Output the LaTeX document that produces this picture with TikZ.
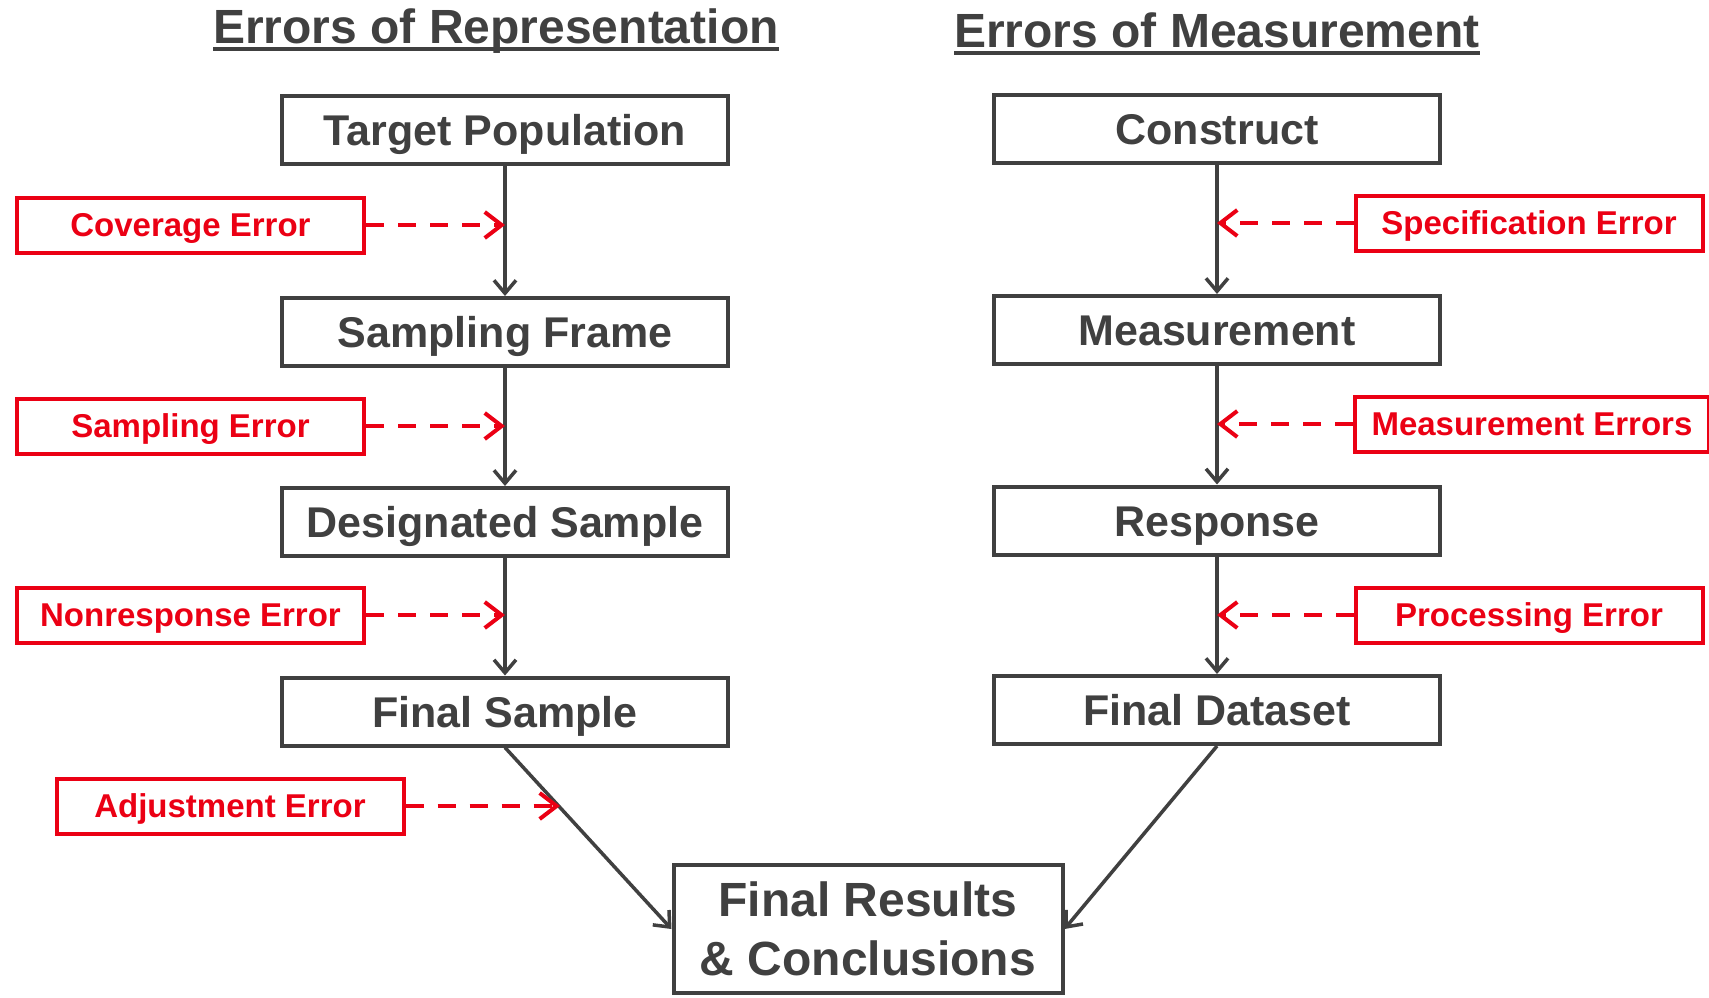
\documentclass[tikz,border=0pt]{standalone}
\usepackage{fontspec}
\setmainfont{Liberation Sans}
\usetikzlibrary{arrows.meta}
\definecolor{darkgr}{RGB}{64,64,64}
\definecolor{errred}{RGB}{235,0,20}
\begin{document}
\begin{tikzpicture}[x=1pt,y=1pt,
  stage/.style={draw=darkgr,line width=4pt,text=darkgr,inner sep=0pt,
    font=\fontsize{43}{50}\selectfont\bfseries,minimum width=446pt,minimum height=68pt,
    text height=31pt,text depth=0pt},
  errbox/.style={draw=errred,line width=4pt,text=errred,inner sep=0pt,
    font=\fontsize{33}{38}\selectfont\bfseries,minimum width=347pt,minimum height=55pt,
    text height=23.6pt,text depth=0pt},
  heading/.style={text=darkgr,inner sep=0pt,anchor=base,font=\fontsize{48}{56}\selectfont\bfseries},
  uline/.style={draw=darkgr,line width=3.5pt},
  flow/.style={draw=darkgr,line width=3.5pt,-{Straight Barb[length=13pt,width=22pt]}},
  errflow/.style={draw=errred,line width=4pt,dash pattern=on 18pt off 14pt,
    -{Straight Barb[length=17pt,width=26pt]}}]
\useasboundingbox (0,0) rectangle (1709,-997);
% headings
\node[heading] (hrep) at (496,-43) {Errors of Representation};
\node[heading] (hmeas) at (1217,-47) {Errors of Measurement};
\draw[uline] ([yshift=-6pt]hrep.base west) -- ([yshift=-6pt]hrep.base east);
\draw[uline] ([yshift=-6pt]hmeas.base west) -- ([yshift=-6pt]hmeas.base east);
% representation side
\node[stage] (tp) at (505,-129.5) {Target Population};
\node[stage] (sf) at (505,-332) {Sampling Frame};
\node[stage] (ds) at (505,-522) {Designated Sample};
\node[stage] (fs) at (505,-711.5) {Final Sample};
% measurement side
\node[stage] (co) at (1217,-129) {Construct};
\node[stage] (me) at (1217,-330) {Measurement};
\node[stage] (re) at (1217,-520.5) {Response};
\node[stage] (fd) at (1217,-710) {Final Dataset};
% result
\node[stage,align=center,minimum width=389pt,minimum height=128pt,text height=,text depth=,
  font=\fontsize{48}{59}\selectfont\bfseries] (fr) at (868,-929) {Final Results\\\& Conclusions};
% error sources
\node[errbox] (cov) at (190.5,-225) {Coverage Error};
\node[errbox] (samp) at (190.5,-426) {Sampling Error};
\node[errbox] (nonr) at (190.5,-615) {Nonresponse Error};
\node[errbox] (adj) at (230,-806) {Adjustment Error};
\node[errbox] (spec) at (1529,-223) {Specification Error};
\node[errbox,minimum width=354pt] (merr) at (1532,-424) {Measurement Errors};
\node[errbox] (proc) at (1529,-615) {Processing Error};
% connectors
\draw[flow] (tp.south) -- (sf.north);
\draw[flow] (sf.south) -- (ds.north);
\draw[flow] (ds.south) -- (fs.north);
\draw[flow] (co.south) -- (me.north);
\draw[flow] (me.south) -- (re.north);
\draw[flow] (re.south) -- (fd.north);
\draw[flow] (fs.south) -- coordinate[pos=0.33] (adjpt) (fr.west);
\draw[flow] (fd.south) -- (fr.east);
% error arrows
\draw[errflow] (cov.east) -- (cov.east -| tp.south);
\draw[errflow] (samp.east) -- (samp.east -| sf.south);
\draw[errflow] (nonr.east) -- (nonr.east -| ds.south);
\draw[errflow] (adj.east) -- (adj.east -| adjpt);
\draw[errflow] (spec.west) -- (spec.west -| co.south);
\draw[errflow] (merr.west) -- (merr.west -| me.south);
\draw[errflow] (proc.west) -- (proc.west -| re.south);
\end{tikzpicture}
\end{document}
